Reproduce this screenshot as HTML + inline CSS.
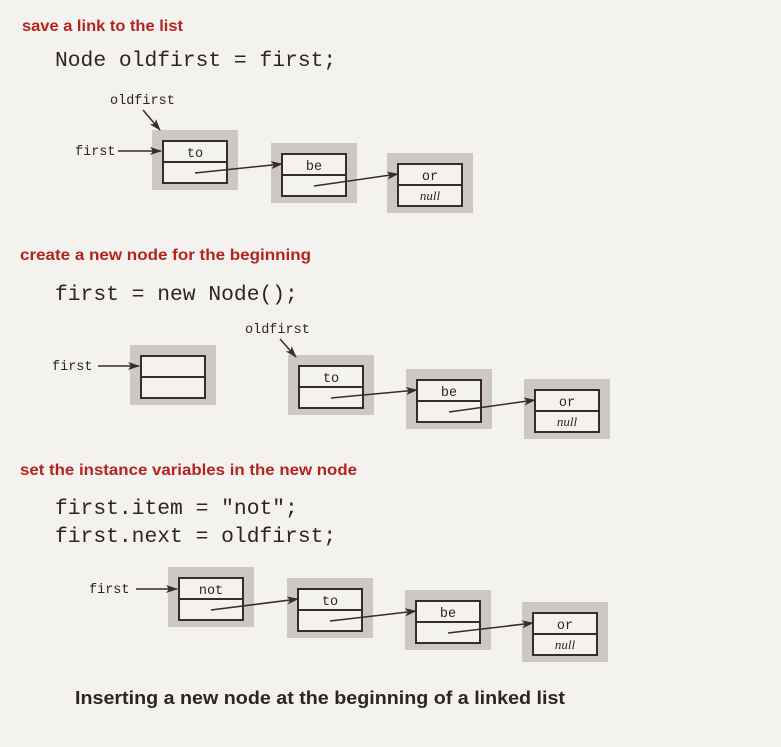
<!DOCTYPE html>
<html><head><meta charset="utf-8"><style>
body{margin:0;background:#f3f2ef;}
svg{display:block;}
.t{font-family:"Liberation Sans",sans-serif;font-weight:bold;font-size:16px;fill:#b5231f;}
.c{font-family:"Liberation Mono",monospace;font-size:21.3px;fill:#2e2424;}
.m{font-family:"Liberation Mono",monospace;font-size:13.5px;fill:#2e2424;}
.n{font-family:"Liberation Serif",serif;font-style:italic;font-size:13px;fill:#2e2424;}
</style></head><body>
<svg id="s" width="781" height="747" viewBox="0 0 781 747">
<defs><marker id="ah" markerWidth="12" markerHeight="8" refX="11" refY="4" orient="auto" markerUnits="userSpaceOnUse"><path d="M0,0 L12,4 L0,8 L3,4 z" fill="#3b2a2a"/></marker></defs>
<g id="nodes"></g>
<text class="t" x="22" y="31" textLength="161" lengthAdjust="spacingAndGlyphs">save a link to the list</text>
<text class="c" x="55" y="66">Node oldfirst = first;</text>
<text class="t" x="20" y="260" textLength="291" lengthAdjust="spacingAndGlyphs">create a new node for the beginning</text>
<text class="c" x="55" y="300">first = new Node();</text>
<text class="t" x="20" y="475" textLength="337" lengthAdjust="spacingAndGlyphs">set the instance variables in the new node</text>
<text class="c" x="55" y="514">first.item = "not";</text>
<text class="c" x="55" y="542">first.next = oldfirst;</text>
<text x="75" y="704" textLength="490" lengthAdjust="spacingAndGlyphs" style="font-family:'Liberation Sans',sans-serif;font-weight:bold;font-size:18px;fill:#2e2424">Inserting a new node at the beginning of a linked list</text>

<text class="m" x="110" y="104">oldfirst</text>
<line x1="143" y1="110" x2="160" y2="130" stroke="#3b2a2a" stroke-width="1.5" marker-end="url(#ah)"/>
<text class="m" x="75" y="155">first</text>
<line x1="118" y1="151" x2="161" y2="151" stroke="#3b2a2a" stroke-width="1.5" marker-end="url(#ah)"/>

<text class="m" x="52" y="370">first</text>
<line x1="98" y1="366" x2="139" y2="366" stroke="#3b2a2a" stroke-width="1.5" marker-end="url(#ah)"/>
<text class="m" x="245" y="333">oldfirst</text>
<line x1="280" y1="339" x2="296" y2="357" stroke="#3b2a2a" stroke-width="1.5" marker-end="url(#ah)"/>

<text class="m" x="89" y="593">first</text>
<line x1="136" y1="589" x2="177" y2="589" stroke="#3b2a2a" stroke-width="1.5" marker-end="url(#ah)"/>
<g id="links"></g>
</svg>
<script>
var rows=[
 [[152,130,'to'],[271,143,'be'],[387,153,'or']],
 [[130,345,'']],
 [[288,355,'to'],[406,369,'be'],[524,379,'or']],
 [[168,567,'not'],[287,578,'to'],[405,590,'be'],[522,602,'or']]
];
var NS='http://www.w3.org/2000/svg',G=document.getElementById('nodes'),L=document.getElementById('links');
function mk(p,t,a){var e=document.createElementNS(NS,t);for(var k in a)e.setAttribute(k,a[k]);p.appendChild(e);return e;}
rows.forEach(function(r){
 r.forEach(function(n,i){
  var gx=n[0],gy=n[1],last=(i==r.length-1)&&n[2]!=='';
  var g=mk(G,'rect',{x:gx,y:gy,width:86,height:60,fill:'#cdc8c5'});
  
  
  var b=mk(G,'rect',{x:gx+11,y:gy+11,width:64,height:42,fill:'#f3f2ef',stroke:'#3b2a2a','stroke-width':2});
  
  
  var d=mk(G,'line',{x1:gx+11,y1:gy+32,x2:gx+75,y2:gy+32,stroke:'#3b2a2a','stroke-width':2});
  
  
  if(n[2]){var t=mk(G,'text',{x:gx+43,y:gy+27,'text-anchor':'middle','class':'m'});t.textContent=n[2];
   
   }
  if(last){var u=mk(G,'text',{x:gx+43,y:gy+47,'text-anchor':'middle','class':'n'});u.textContent='null';
   
   }
  else if(i<r.length-1){var nx=r[i+1];
   var a=mk(L,'line',{x1:gx+43,y1:gy+43,x2:nx[0]+11,y2:nx[1]+21,stroke:'#3b2a2a','stroke-width':1.5,'marker-end':'url(#ah)'});
   
   }
 });
});
</script>
</body></html>
